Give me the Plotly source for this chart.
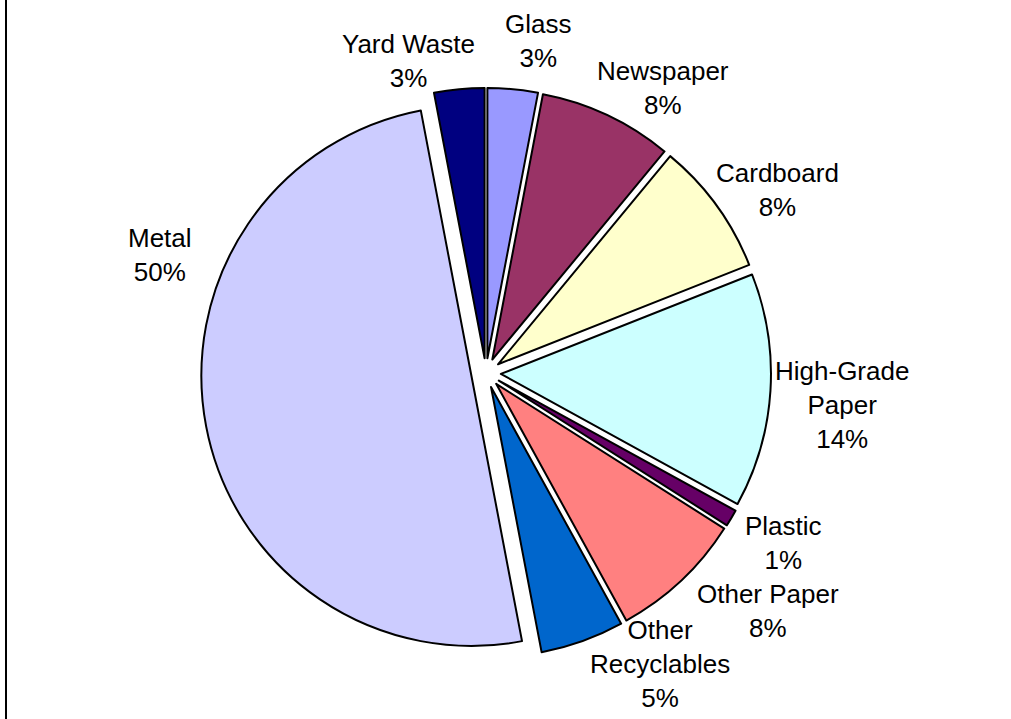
import plotly.graph_objects as go

categories = ["Glass", "Newspaper", "Cardboard", "High-Grade Paper", "Plastic",
              "Other Paper", "Other Recyclables", "Metal", "Yard Waste"]
display_names = ["Glass", "Newspaper", "Cardboard", "High-Grade<br>Paper", "Plastic",
                 "Other Paper", "Other<br>Recyclables", "Metal", "Yard Waste"]
values = [3, 8, 8, 14, 1, 8, 5, 50, 3]
colors = ["#9999FF", "#993366", "#FFFFCC", "#CCFFFF", "#660066",
          "#FF8080", "#0066CC", "#CCCCFF", "#000080"]

# label block centres (pixels from top-left), placed as in the reference
label_px = [(538, 41), (663, 88), (777, 190), (842, 405), (783, 543),
            (768, 611), (660, 664), (160, 255), (408, 61)]

W, H = 1011, 719
cx, cy, half = 486, 373, 285

fig = go.Figure(go.Pie(
    labels=categories,
    values=values,
    textinfo="none",
    marker=dict(colors=colors, line=dict(color="black", width=2)),
    sort=False,
    direction="clockwise",
    rotation=0,
    pull=[0.055] * len(values),
    showlegend=False,
    hoverinfo="label+percent",
    domain=dict(x=[(cx - half) / W, (cx + half) / W],
                y=[(H - cy - half) / H, (H - cy + half) / H]),
))

total = sum(values)
for name, v, (px, py) in zip(display_names, values, label_px):
    fig.add_annotation(
        text=f"{name}<br>{round(100 * v / total)}%",
        x=px / W, y=1 - py / H, xref="paper", yref="paper",
        xanchor="center", yanchor="middle", align="center", showarrow=False,
        font=dict(family="Liberation Sans, Arial, sans-serif", size=26, color="black"),
    )

fig.add_shape(type="line", xref="paper", yref="paper", x0=6 / W, x1=6 / W, y0=-0.1, y1=1.1,
              line=dict(color="black", width=2))

fig.update_layout(
    width=W, height=H,
    margin=dict(l=0, r=0, t=0, b=0, autoexpand=False),
    paper_bgcolor="white",
    plot_bgcolor="white",
)

fig.write_html("out.html", config={"displayModeBar": False},
               post_script="document.body.style.margin='0';")
